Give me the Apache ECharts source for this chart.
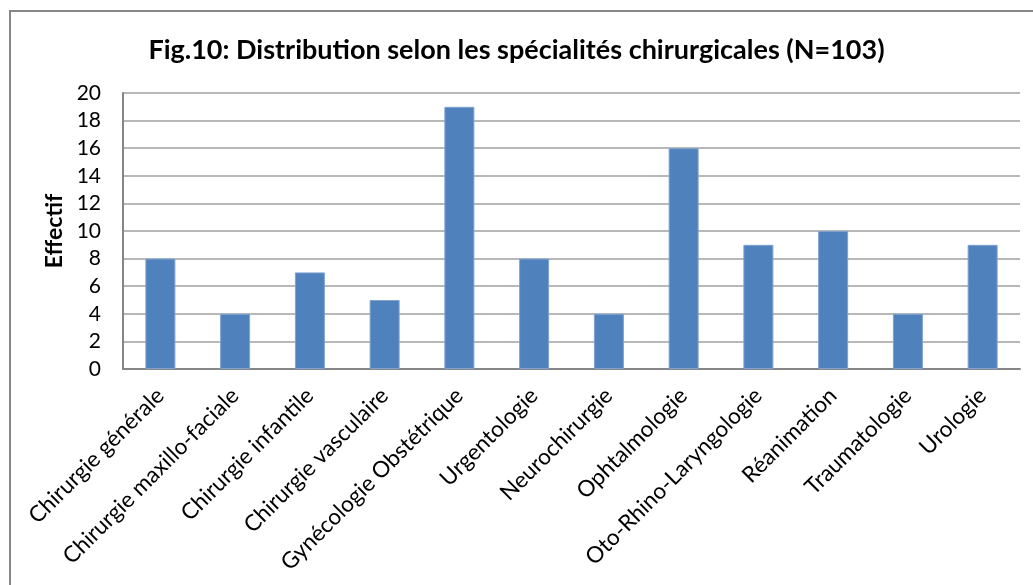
<!DOCTYPE html>
<html>
<head>
<meta charset="utf-8">
<script src="https://cdn.jsdelivr.net/npm/echarts@6/dist/echarts.min.js"></script>
<style>
  html, body { margin: 0; padding: 0; background: #fff; }
  #chart { width: 1033px; height: 585px; }
</style>
</head>
<body>
<div id="chart"></div>
<script>
// données
const specialites = [
  "Chirurgie générale", "Chirurgie maxillo-faciale", "Chirurgie infantile",
  "Chirurgie vasculaire", "Gynécologie Obstétrique", "Urgentologie",
  "Neurochirurgie", "Ophtalmologie", "Oto-Rhino-Laryngologie",
  "Réanimation", "Traumatologie", "Urologie"
];
const effectifs = [8, 4, 7, 5, 19, 8, 4, 16, 9, 10, 4, 9];

const fontFam = "Lato, 'Open Sans', sans-serif";

const myChart = echarts.init(document.getElementById("chart"));

const option = {
  animation: false,
  textStyle: { fontFamily: fontFam },
  title: {
    text: "Fig.10: Distribution selon les spécialités chirurgicales (N=103)",
    left: "center",
    top: 32,
    textStyle: { fontSize: 27, fontWeight: "bold", color: "#000", fontFamily: fontFam },
  },
  graphic: [
    {
      type: "rect",
      shape: { x: 10, y: 11, width: 1040, height: 600 },
      style: { fill: "none", stroke: "#868686", lineWidth: 2 },
      silent: true,
    },
  ],
  grid: { left: 123, right: 13, top: 93, bottom: 216 },
  xAxis: {
    type: "category",
    data: specialites,
    axisTick: { show: false },
    axisLine: { lineStyle: { color: "#868686", width: 2 } },
    axisLabel: {
      rotate: 45,
      interval: 0,
      fontSize: 22.5,
      color: "#000",
      margin: 23,
      fontFamily: fontFam,
    },
  },
  yAxis: {
    type: "value",
    min: 0,
    max: 20,
    interval: 2,
    name: "Effectif",
    nameLocation: "middle",
    nameGap: 55,
    nameTextStyle: { fontSize: 23, fontWeight: "bold", color: "#000", fontFamily: fontFam },
    axisLine: { show: true, lineStyle: { color: "#868686", width: 2 } },
    axisTick: { show: false },
    splitLine: { lineStyle: { color: "#A0A0A0", width: 1.5 } },
    axisLabel: { fontSize: 21, color: "#000", margin: 22, fontFamily: fontFam },
  },
  series: [
    {
      type: "bar",
      data: effectifs,
      barWidth: 30,
      itemStyle: { color: "#4F81BD", borderColor: "#7FA3D0", borderWidth: 1 },
    },
  ],
};

myChart.setOption(option);
</script>
</body>
</html>
